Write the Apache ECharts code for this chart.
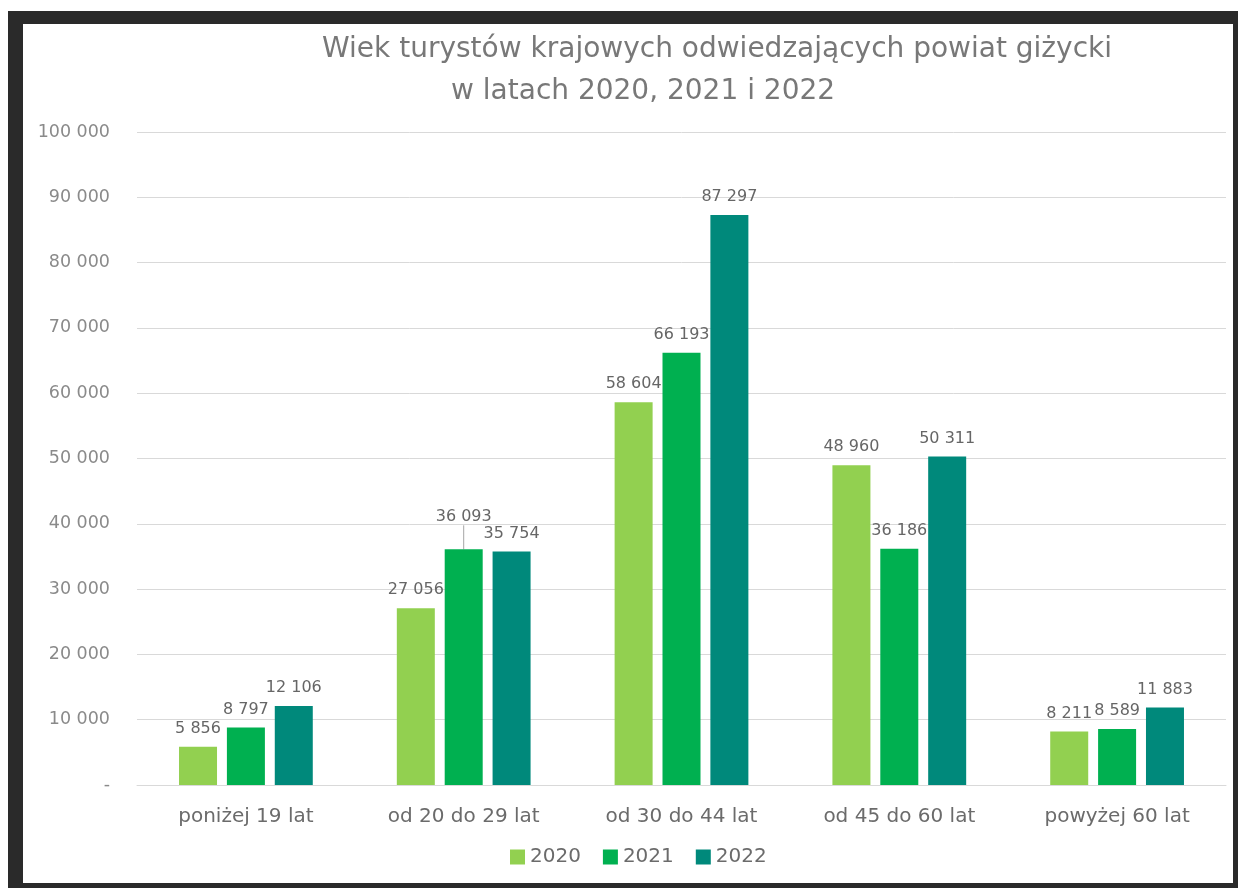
<!DOCTYPE html>
<html>
<head>
<meta charset="utf-8">
<script src="https://cdn.jsdelivr.net/npm/echarts@6/dist/echarts.min.js"></script>
<style>
  html, body { margin: 0; padding: 0; width: 1238px; height: 888px; background: #ffffff; overflow: hidden; }
  #frame { position: absolute; left: 8px; top: 11px; width: 1230px; height: 877px; background: #2a2a2a; }
  #inner { position: absolute; left: 23px; top: 24px; width: 1210px; height: 859px; background: #ffffff; }
  #chart { position: absolute; left: 0; top: 0; width: 1238px; height: 888px; }
</style>
</head>
<body>
<div id="frame"></div>
<div id="inner"></div>
<div id="chart"></div>
<script>
// ---- data ----
const categories = ['poniżej 19 lat', 'od 20 do 29 lat', 'od 30 do 44 lat', 'od 45 do 60 lat', 'powyżej 60 lat'];
const seriesNames = ['2020', '2021', '2022'];
const values2020 = [5856, 27056, 58604, 48960, 8211];
const values2021 = [8797, 36093, 66193, 36186, 8589];
const values2022 = [12106, 35754, 87297, 50311, 11883];
const titleLine1 = 'Wiek turystów krajowych odwiedzających powiat giżycki';
const titleLine2 = 'w latach 2020, 2021 i 2022';
const yMin = 0, yMax = 100000, yInterval = 10000;

// ---- presentation ----
const colors = ['#92D050', '#00B050', '#00897B'];
const FONT = 'DejaVu Sans';
const fmt = v => v === 0 ? '-' : String(v).replace(/\B(?=(\d{3})+(?!\d))/g, ' ');
const seriesData = [values2020, values2021, values2022];

const chart = echarts.init(document.getElementById('chart'), null, { renderer: 'canvas' });
const option = {
  backgroundColor: 'transparent',
  animation: false,
  color: colors,
  title: [
    { text: titleLine1, left: 317, top: 31, textStyle: { fontFamily: FONT, fontWeight: 'normal', fontSize: 28, color: '#787878' } },
    { text: titleLine2, left: 446, top: 73, textStyle: { fontFamily: FONT, fontWeight: 'normal', fontSize: 28, color: '#787878' } }
  ],
  grid: { left: 137, right: 12, top: 132, bottom: 103, containLabel: false },
  legend: {
    data: seriesNames,
    bottom: 16,
    left: 505,
    itemWidth: 15,
    itemHeight: 15,
    itemGap: 22,
    icon: 'rect',
    textStyle: { fontFamily: FONT, fontSize: 20, color: '#6b6b6b' }
  },
  xAxis: {
    type: 'category',
    data: categories,
    axisLine: { show: true, lineStyle: { color: '#d9d9d9', width: 1 } },
    axisTick: { show: false },
    axisLabel: { margin: 22, fontFamily: FONT, fontSize: 20, color: '#6b6b6b' }
  },
  yAxis: {
    type: 'value',
    min: yMin, max: yMax, interval: yInterval,
    axisLine: { show: false },
    axisTick: { show: false },
    splitLine: { lineStyle: { color: '#d9d9d9', width: 1 } },
    axisLabel: { margin: 27, fontFamily: FONT, fontSize: 17.5, color: '#8a8a8a', formatter: fmt }
  },
  series: seriesNames.map((name, i) => ({
    name: name,
    type: 'bar',
    data: seriesData[i].map((v, j) => (i === 1 && j === 1)
      ? { value: v, labelLine: { show: true, lineStyle: { color: '#a6a6a6', width: 1 } } }
      : v),
    barWidth: 38,
    barGap: '26%',
    itemStyle: { color: colors[i] },
    label: {
      show: true,
      position: 'top',
      distance: 10,
      fontFamily: FONT,
      fontSize: 16,
      color: '#666666',
      formatter: p => fmt(p.value)
    },
    labelLine: { show: false },
    labelLayout: function (p) {
      return (p.seriesIndex === 1 && p.dataIndex === 1) ? { dy: -14 } : {};
    }
  }))
};
chart.setOption(option);
</script>
</body>
</html>
